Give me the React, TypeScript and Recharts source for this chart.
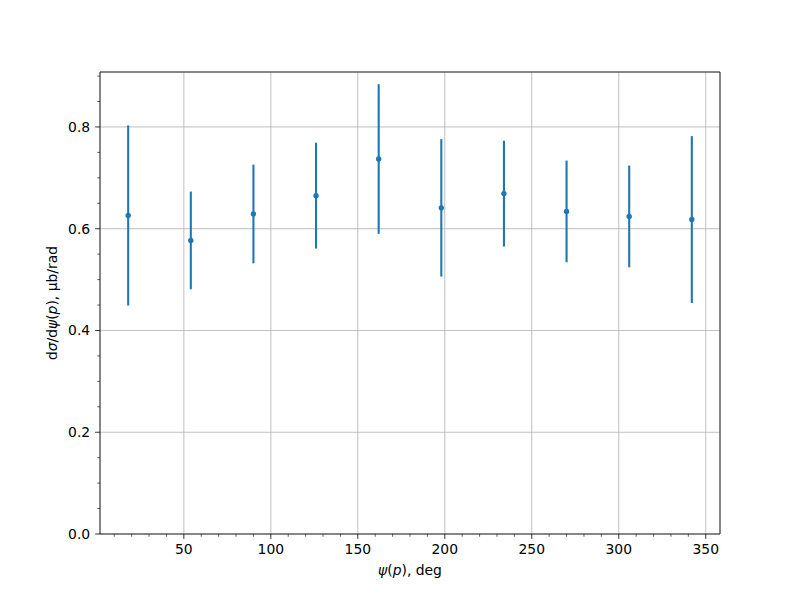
import React from 'react';
import { ComposedChart, Scatter, XAxis, YAxis, CartesianGrid, ErrorBar, ReferenceLine } from 'recharts';

const psiDeg = [18, 54, 90, 126, 162, 198, 234, 270, 306, 342];
const dSigma = [0.626, 0.577, 0.629, 0.665, 0.737, 0.641, 0.669, 0.634, 0.624, 0.618];
const dSigmaErr = [0.177, 0.096, 0.097, 0.104, 0.147, 0.135, 0.104, 0.100, 0.100, 0.164];

const xMajorTicks = [50, 100, 150, 200, 250, 300, 350];
const xMinorTicks = [10, 20, 30, 40, 60, 70, 80, 90, 110, 120, 130, 140, 160, 170, 180, 190, 210, 220, 230, 240, 260, 270, 280, 290, 310, 320, 330, 340];
const yMajorTicks = [0, 0.2, 0.4, 0.6, 0.8];
const yMinorTicks = [0.05, 0.1, 0.15, 0.25, 0.3, 0.35, 0.45, 0.5, 0.55, 0.65, 0.7, 0.75, 0.85, 0.9];

const xDomain = [1.8, 358.2];
const yDomain = [0, 0.908];

const xAllTicks = [...xMajorTicks, ...xMinorTicks].sort((a, b) => a - b);
const yAllTicks = [...yMajorTicks, ...yMinorTicks].sort((a, b) => a - b);

const data = psiDeg.map((x, i) => ({ x, y: dSigma[i], err: dSigmaErr[i] }));

const FONT = 'DejaVu Sans';
const BLUE = '#1f77b4';
const FS = 13.9;
const MAJOR_LEN = 4.9;
const MINOR_LEN = 2.8;
const PAD = 4.9;

const isMajor = (list: number[], v: number) => list.some((t) => Math.abs(t - v) < 1e-9);

const XTick = (props: any) => {
  const { x, y, payload } = props;
  const v = payload.value;
  const major = isMajor(xMajorTicks, v);
  const len = major ? MAJOR_LEN : MINOR_LEN;
  return (
    <g>
      <line x1={x} x2={x} y1={y} y2={y + len} stroke="#000" strokeWidth={major ? 0.8 : 0.6} />
      {major && (
        <text x={x} y={y + MAJOR_LEN + PAD} dy="0.76em" textAnchor="middle" fontFamily={FONT} fontSize={FS} fill="#000">
          {String(v)}
        </text>
      )}
    </g>
  );
};

const YTick = (props: any) => {
  const { x, y, payload } = props;
  const v = payload.value;
  const major = isMajor(yMajorTicks, v);
  const len = major ? MAJOR_LEN : MINOR_LEN;
  return (
    <g>
      <line x1={x} x2={x - len} y1={y} y2={y} stroke="#000" strokeWidth={major ? 0.8 : 0.6} />
      {major && (
        <text x={x - MAJOR_LEN - PAD} y={y} dy="0.36em" textAnchor="end" fontFamily={FONT} fontSize={FS} fill="#000">
          {v.toFixed(1)}
        </text>
      )}
    </g>
  );
};

const XLabel = (props: any) => {
  const vb = props.viewBox || { x: 100, y: 534, width: 620, height: 30 };
  const cx = vb.x + vb.width / 2;
  const y = vb.y + 41;
  return (
    <text x={cx} y={y} textAnchor="middle" fontFamily={FONT} fontSize={FS} fill="#000">
      <tspan fontStyle="italic">ψ</tspan>
      <tspan>(</tspan>
      <tspan fontStyle="italic">p</tspan>
      <tspan>), deg</tspan>
    </text>
  );
};

const YLabel = (props: any) => {
  const vb = props.viewBox || { x: 40, y: 72, width: 60, height: 462 };
  const cx = vb.x + vb.width - 43;
  const cy = vb.y + vb.height / 2;
  return (
    <text x={cx} y={cy} textAnchor="middle" fontFamily={FONT} fontSize={FS} fill="#000" transform={`rotate(-90, ${cx}, ${cy})`}>
      <tspan>d</tspan>
      <tspan fontStyle="italic">σ</tspan>
      <tspan>/d</tspan>
      <tspan fontStyle="italic">ψ</tspan>
      <tspan>(</tspan>
      <tspan fontStyle="italic">p</tspan>
      <tspan>), μb/rad</tspan>
    </text>
  );
};

const Dot = (props: any) => {
  const { cx, cy } = props;
  return <circle cx={cx} cy={cy} r={2.7} fill={BLUE} />;
};

export default function App() {
  return (
    <div style={{ width: 800, height: 600, margin: -8, background: '#fff' }}>
      <ComposedChart width={800} height={600} data={data} margin={{ top: 72, right: 80, bottom: 36, left: 40 }}>
        <XAxis xAxisId="grid" type="number" dataKey="x" domain={xDomain} allowDataOverflow ticks={xMajorTicks} hide />
        <YAxis yAxisId="grid" type="number" domain={yDomain} allowDataOverflow ticks={yMajorTicks} hide />
        <CartesianGrid stroke="#b0b0b0" strokeWidth={0.8} xAxisId="grid" yAxisId="grid" />
        <XAxis xAxisId={0} type="number" dataKey="x" domain={xDomain} allowDataOverflow ticks={xAllTicks}
          height={30} tick={<XTick />} tickSize={0} tickMargin={0} tickLine={false} interval={0}
          axisLine={{ stroke: '#000', strokeWidth: 0.8 }} label={<XLabel />} />
        <YAxis yAxisId={0} type="number" domain={yDomain} allowDataOverflow ticks={yAllTicks}
          width={60} tick={<YTick />} tickSize={0} tickMargin={0} tickLine={false} interval={0}
          axisLine={{ stroke: '#000', strokeWidth: 0.8 }} label={<YLabel />} />
        <ReferenceLine xAxisId={0} yAxisId={0} y={yDomain[1]} stroke="#000" strokeWidth={0.8} ifOverflow="visible" />
        <ReferenceLine xAxisId={0} yAxisId={0} x={xDomain[1]} stroke="#000" strokeWidth={0.8} ifOverflow="visible" />
        <Scatter xAxisId={0} yAxisId={0} dataKey="y" fill={BLUE} shape={<Dot />} isAnimationActive={false}>
          <ErrorBar dataKey="err" direction="y" width={0} stroke={BLUE} strokeWidth={2.1} isAnimationActive={false} />
        </Scatter>
      </ComposedChart>
    </div>
  );
}
